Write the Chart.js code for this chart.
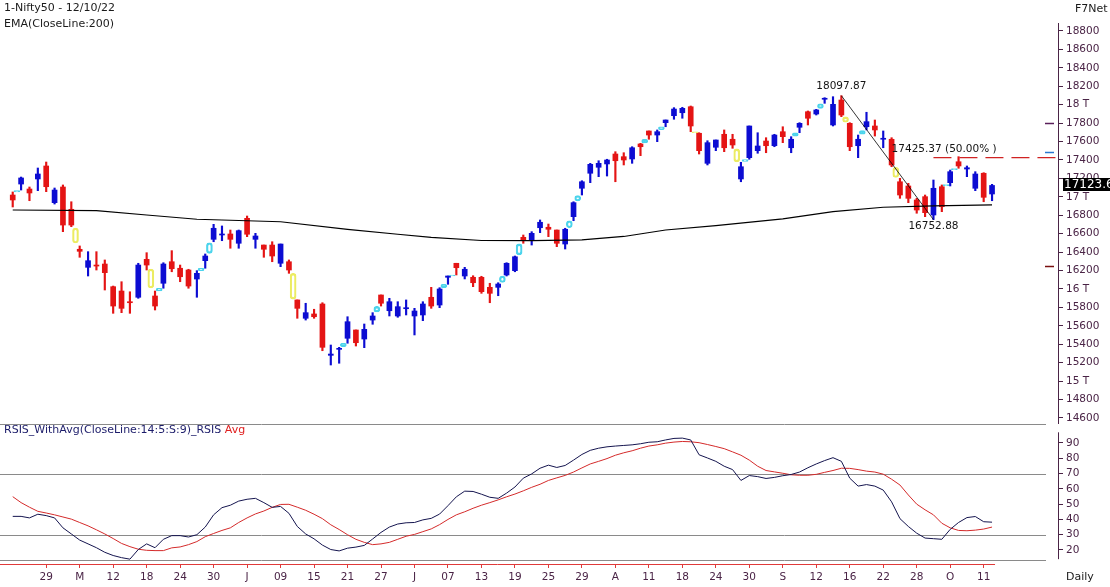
<!DOCTYPE html>
<html>
<head>
<meta charset="utf-8">
<title>Nifty50 daily</title>
<script src="https://cdn.jsdelivr.net/npm/chart.js@4.4.1/dist/chart.umd.min.js"></script>
<style>
  html, body { margin: 0; padding: 0; background: #fff; }
  body { position: relative; width: 1110px; height: 587px; overflow: hidden; font-family: "DejaVu Sans", Verdana, sans-serif; }
  canvas { position: absolute; left: 0; }
  #priceChart { top: 0; }
  #rsiChart { top: 424px; }
  .txt { position: absolute; font-size: 11px; line-height: 14px; color: #1a1a1a; white-space: nowrap; }
</style>
</head>
<body>
<canvas id="priceChart" width="1110" height="424"></canvas>
<canvas id="rsiChart" width="1110" height="163"></canvas>
<div class="txt" style="left:4px;top:1px">1-Nifty50 - 12/10/22</div>
<div class="txt" style="left:4px;top:17px">EMA(CloseLine:200)</div>
<div class="txt" style="left:1075px;top:2px">F7Net</div>
<div class="txt" style="left:4px;top:423px;color:#1c1c6a">RSIS_WithAvg(CloseLine:14:5:S:9)_RSIS <span style="color:#e02020">Avg</span></div>
<div class="txt" style="left:1066px;top:570px">Daily</div>
<script>
// daily candles, 25 Apr 2022 .. 12 Oct 2022
const open = [17020,17139,17085,17194,17335,16937,17107,16865,16431,16235,
  16260,16271,16025,15978,15862,15910,16322,15924,16062,16296,
  16225,16206,16108,16307,16539,16586,16597,16496,16767,16539,
  16477,16477,16279,16296,15881,15682,15729,15837,15280,15345,
  15465,15555,15457,15663,15935,15764,15707,15786,15707,15718,
  15910,15826,16127,16279,16141,16127,16127,16018,16018,16152,
  16199,16561,16532,16665,16670,16640,16488,16785,17093,17256,
  17321,17357,17465,17436,17411,17574,17715,17671,17805,17881,
  17913,17978,17690,17364,17538,17679,17625,17194,17425,17501,
  17606,17555,17707,17533,17755,17924,17899,18059,17780,18051,
  17798,17555,17761,17769,17625,17625,17164,17118,16966,17002,
  16803,17110,17154,17381,17302,17093,17256,17031]
const high = [17053,17215,17107,17313,17378,17096,17129,16947,16467,16405,
  16405,16315,16032,16079,15970,16279,16394,15978,16285,16416,
  16260,16214,16199,16380,16702,16684,16640,16640,16792,16604,
  16477,16513,16488,16315,15881,15845,15780,15851,15392,15367,
  15699,15555,15620,15743,15935,15899,15862,15881,15790,15862,
  16018,16014,16141,16279,16235,16144,16138,16062,16068,16285,
  16358,16586,16622,16749,16705,16640,16659,16947,17175,17364,
  17392,17408,17490,17479,17544,17581,17715,17726,17834,17968,
  17972,17986,17696,17609,17617,17726,17679,17375,17769,17696,
  17642,17679,17761,17653,17805,17932,17950,18076,18087,18097.87,
  17805,17671,17918,17834,17715,17642,17201,17147,16984,17020,
  17183,17129,17291,17436,17335,17273,17262,17136]
const low = [16890,17074,16958,17067,17056,16922,16622,16676,16344,16141,
  16206,15989,15736,15743,15736,15899,16206,15772,16008,16187,
  16079,16008,15910,16225,16513,16524,16442,16442,16568,16442,
  16344,16296,16242,16170,15682,15663,15682,15330,15175,15194,
  15411,15381,15363,15617,15815,15707,15693,15718,15501,15656,
  15790,15797,16051,16152,16109,16025,15953,15851,15927,16141,
  16187,16496,16477,16611,16568,16459,16434,16741,17020,17154,
  17219,17226,17164,17346,17364,17447,17625,17599,17761,17842,
  17853,17707,17465,17346,17501,17490,17527,17164,17408,17473,
  17479,17544,17588,17479,17696,17780,17888,18015,17769,17870,
  17501,17425,17726,17660,17533,17327,16984,16937,16822,16785,
  16752.88,16839,17118,17310,17219,17067,16947,16958]
const close = [16966,17205,17042,17248,17110,17074,16694,16694,16409,16307,
  16249,16177,15815,15790,15851,16260,16260,15815,16271,16220,
  16133,16032,16170,16358,16659,16597,16539,16633,16594,16575,
  16431,16358,16488,16206,15790,15743,15699,15367,15294,15356,
  15645,15417,15562,15707,15845,15862,15808,15797,15761,15837,
  15815,16000,16141,16231,16214,16068,15971,15953,16054,16279,
  16350,16524,16604,16724,16648,16496,16648,16937,17164,17353,
  17364,17400,17392,17400,17533,17544,17671,17707,17834,17953,
  17961,17769,17501,17588,17617,17533,17563,17327,17769,17552,
  17555,17671,17653,17625,17798,17853,17943,18070,18004,17888,
  17544,17625,17816,17726,17635,17346,17020,16984,16857,16828,
  17093,16893,17273,17335,17316,17248,16995,17123.6]

// date axis: a label every 4th session
const tickIdx = [4,8,12,16,20,24,28,32,36,40,44,48,52,56,60,64,68,72,76,80,84,88,92,96,100,104,108,112,116]
const tickText = ['29','M','12','18','24','30','J','09','15','21','27','J','07','13','19','25','29','A','11','18','24','30','S','12','16','22','28','O','11']
const priceTicks = [14600,14800,15000,15200,15400,15600,15800,16000,16200,16400,16600,16800,17000,17200,17400,17600,17800,18000,18200,18400,18600,18800]

// EMA(200)
const emaIdx = [0,10,16,22,32,40,46,50,56,62,68,73,78,84,92,98,104,110,117]
const emaVal = [16857,16850,16803,16757,16730,16648,16594,16561,16526,16524,16532,16570,16640,16687,16760,16839,16887,16901,16912]

// price gaps between sessions (cyan = gap up, yellow = gap down)
const gapPos = [0.5,7.5,16.5,17.5,22.5,23.5,33.5,39.5,43.5,51.5,52.5,58.5,60.5,66.5,67.5,75.5,77.5,81.5,86.5,87.5,93.5,96.5,99.5,101.5,105.5,111.5,112.5]
const gapLo = [17053,16499,16011,15978,16199,16387,15890,15375,15750,16014,16141,16070,16370,16665,16955,17585,17730,17696,17380,17385,17658,17960,17810,17680,17210,17122,17295]
const gapHi = [17069,16662,16217,16008,16225,16502,16170,15411,15812,16051,16152,16141,16490,16741,17015,17625,17761,17707,17520,17405,17696,18010,17868,17720,17320,17132,17308]
const gapUp = [1,0,0,1,1,1,0,1,1,1,1,1,1,1,1,1,1,0,0,1,1,1,0,1,0,1,1]

// retracement drawing
const swingHighIdx = 99, swingHigh = 18097.87
const swingLowIdx = 110, swingLow = 16752.88
const fibLevel = 17425.37
const fibLabelIdx = 105
const sideMarks = [17805, 17490, 16250]

// RSI panel
const rsi = [42,42,41,43.4,42.5,41,34.5,30.5,26.5,24,
  21.5,18.5,16.4,15,14,20.3,24,21.5,27,29.4,
  29.4,28.5,30,35,43,47.7,49.3,52,53.2,53.8,
  51,47.9,48.5,44,35.4,30.5,27.3,23.2,20.3,19.4,
  21.2,21.9,23,27.2,31.5,35,37,37.8,38,39.7,
  40.7,43.5,49,54.8,58.5,58.3,56.5,54.5,53.8,57.2,
  61.2,67,69.8,73.5,75.5,74,75.3,78.8,82.5,85.2,
  86.6,87.5,88,88.4,88.8,89.5,90.5,90.8,92,93,
  93.2,92,82.3,80.2,78,74.8,72.6,65.5,68.7,68,
  66.8,67.5,68.6,69.4,71,73.8,76.3,78.5,80.4,78,
  67,61.8,62.8,61.8,59.2,51.5,40.5,35.4,31,27.8,
  27.4,27,33.5,38,41.2,41.9,38.5,38.2]
const rsiAvg = [54.9,51,48,45.3,44.2,43,41.6,40.2,38,35.8,
  33.2,30.5,27.5,24.3,22.2,20.5,19.8,19.6,19.6,21.4,
  22,23.5,25.5,28.7,30.8,32.8,34.5,38,41,43.6,
  45.5,47.9,49.8,49.9,48,46,43.4,40.5,36.5,33.4,
  30,27,25,23.5,24,25,27,29,30.2,32,
  33.8,36.6,40,43,45,47.3,49.3,51,52.8,54.8,
  56.6,58.7,61,63,65.5,67.2,68.8,71,73.7,76.3,
  78,79.8,82,83.6,84.9,86.6,88,88.8,89.9,90.6,
  91,90.8,90.2,89,87.7,86.3,84.2,82,78.8,74.8,
  72,71.1,70.2,69.2,68.9,68.9,69.5,70.8,72,73.5,
  73.4,72.6,71.6,71,69.6,66.3,62.5,56,50,46.3,
  43,37.5,34.5,32.8,32.6,33,33.7,35]
const rsiTicks = [20,30,40,50,60,70,80,90]
const rsiLevels = [70, 30]

// look
const UP = '#0c0cd2'
const DOWN = '#e41414'
const CYAN = '#4cd4ec'
const YELLOW = '#ecec62'
const AXIS = '#4a2446'
const GRID = '#8a8a8a'
const TICK_FONT = { family: 'DejaVu Sans', size: 10.5 }
const X_MIN = -1.52, X_MAX = 124.88

const idx = close.map((_, i) => i)
const candleColors = idx.map(i => close[i] >= open[i] ? UP : DOWN)
const sideMarkColors = ['#5a1f5a', '#2a78d0', '#7a1010']

// keep the plot area exactly where the layout padding puts it
function fixWidth(s) {
  s.width = 52
  s.paddingTop = 0
  s.paddingBottom = 0
}
function fixHeight(s) {
  s.height = 23
  s.paddingLeft = 0
  s.paddingRight = 0
}

// Notes, side marks and last-close tag on the price panel
const priceNotes = {
  id: 'priceNotes',
  afterDraw(chart) {
    const { ctx, chartArea: a, scales: { x, y } } = chart
    ctx.save()
    ctx.font = '10.5px "DejaVu Sans"'
    ctx.fillStyle = '#141414'
    ctx.textBaseline = 'middle'
    ctx.textAlign = 'center'
    ctx.fillText(swingHigh.toFixed(2), x.getPixelForValue(swingHighIdx), y.getPixelForValue(swingHigh) - 9)
    ctx.fillText(swingLow.toFixed(2), x.getPixelForValue(swingLowIdx), y.getPixelForValue(swingLow) + 7)
    ctx.textAlign = 'left'
    ctx.fillText(fibLevel.toFixed(2) + ' (50.00% )', x.getPixelForValue(fibLabelIdx), y.getPixelForValue(fibLevel) - 8)

    ctx.lineWidth = 1.5
    sideMarks.forEach((v, k) => {
      const py = Math.round(y.getPixelForValue(v)) + 0.5
      ctx.strokeStyle = sideMarkColors[k]
      ctx.beginPath()
      ctx.moveTo(a.right - 13, py)
      ctx.lineTo(a.right - 4, py)
      ctx.stroke()
    })

    const last = close[close.length - 1]
    const cy = Math.round(y.getPixelForValue(last))
    ctx.fillStyle = '#000'
    ctx.fillRect(a.right + 5, cy - 7, 60, 13)
    ctx.fillStyle = '#fff'
    ctx.font = '12px "DejaVu Sans"'
    ctx.fillText(last.toFixed(1), a.right + 6, cy)
    ctx.restore()
  }
}

// Reference lines and frame of the RSI panel
const rsiFrame = {
  id: 'rsiFrame',
  beforeDatasetsDraw(chart) {
    const { ctx, chartArea: a, scales: { x, y } } = chart
    const gridEnd = a.right - 12
    const hline = (py, x2, color) => {
      ctx.strokeStyle = color
      ctx.beginPath()
      ctx.moveTo(0, py)
      ctx.lineTo(x2, py)
      ctx.stroke()
    }
    ctx.save()
    ctx.lineWidth = 1
    hline(a.top + 0.5, gridEnd, GRID)
    rsiLevels.forEach(v => hline(Math.round(y.getPixelForValue(v)) + 0.5, gridEnd, GRID))
    hline(a.bottom - 3.5, gridEnd, GRID)
    hline(a.bottom + 0.5, x.getPixelForValue(close.length - 1) + 3, '#e03a3a')
    ctx.strokeStyle = AXIS
    ctx.beginPath()
    ctx.moveTo(a.right + 0.5, y.getPixelForValue(97))
    ctx.lineTo(a.right + 0.5, y.getPixelForValue(14))
    ctx.stroke()
    ctx.restore()
  }
}

new Chart(document.getElementById('priceChart'), {
  type: 'bar',
  data: {
    datasets: [
      {
        type: 'line',
        data: emaIdx.map((v, k) => ({ x: v, y: emaVal[k] })),
        borderColor: '#000',
        borderWidth: 1.2,
        pointRadius: 0,
        order: 0,
      },
      {
        type: 'line',
        data: [{ x: swingHighIdx, y: swingHigh }, { x: swingLowIdx, y: swingLow }],
        borderColor: '#000',
        borderWidth: 0.8,
        pointRadius: 0,
        order: 0,
      },
      {
        type: 'line',
        data: [{ x: swingLowIdx, y: fibLevel }, { x: X_MAX, y: fibLevel }],
        borderColor: '#d02222',
        borderWidth: 1.2,
        borderDash: [18, 8],
        pointRadius: 0,
        order: 0,
      },
      {
        data: gapPos.map((p, k) => ({ x: p, y: [gapLo[k], gapHi[k]] })),
        backgroundColor: 'rgba(0,0,0,0)',
        borderColor: gapUp.map(u => (u ? CYAN : YELLOW)),
        borderWidth: 1.5,
        borderRadius: 10,
        borderSkipped: false,
        barThickness: 6,
        grouped: false,
        order: 1,
      },
      {
        data: idx.map(i => ({ x: i, y: [open[i], close[i]] })),
        backgroundColor: candleColors,
        barThickness: 5,
        minBarLength: 1,
        grouped: false,
        order: 2,
      },
      {
        data: idx.map(i => ({ x: i, y: [low[i], high[i]] })),
        backgroundColor: candleColors,
        barThickness: 1.5,
        grouped: false,
        order: 3,
      },
    ],
  },
  options: {
    responsive: false,
    animation: false,
    events: [],
    layout: { padding: { top: 23, left: 0, right: 0, bottom: 0 }, autoPadding: false },
    plugins: { legend: { display: false }, tooltip: { enabled: false } },
    scales: {
      x: { type: 'linear', min: X_MIN, max: X_MAX, offset: false, display: false },
      y: {
        position: 'right',
        min: 14534.7,
        max: 18886.8,
        afterBuildTicks: s => { s.ticks = priceTicks.map(v => ({ value: v })) },
        afterFit: fixWidth,
        ticks: {
          callback: v => (v % 1000 === 0 ? v / 1000 + ' T' : String(v)),
          color: AXIS,
          font: TICK_FONT,
          padding: 3,
        },
        grid: { drawOnChartArea: false, tickLength: 5, color: AXIS },
        border: { color: AXIS },
      },
    },
  },
  plugins: [priceNotes],
})

new Chart(document.getElementById('rsiChart'), {
  type: 'line',
  data: {
    datasets: [
      { data: idx.map(i => ({ x: i, y: rsi[i] })), borderColor: '#14144e', borderWidth: 1, pointRadius: 0 },
      { data: idx.map(i => ({ x: i, y: rsiAvg[i] })), borderColor: '#d42a2a', borderWidth: 1, pointRadius: 0 },
    ],
  },
  options: {
    responsive: false,
    animation: false,
    events: [],
    layout: { padding: 0, autoPadding: false },
    plugins: { legend: { display: false }, tooltip: { enabled: false } },
    scales: {
      x: {
        type: 'linear',
        min: X_MIN,
        max: X_MAX,
        offset: false,
        afterBuildTicks: s => { s.ticks = tickIdx.map(v => ({ value: v })) },
        afterFit: fixHeight,
        ticks: {
          callback: v => tickText[tickIdx.indexOf(v)],
          color: AXIS,
          font: TICK_FONT,
          padding: 3,
          maxRotation: 0,
          autoSkip: false,
        },
        grid: { drawOnChartArea: false, tickLength: 4, color: '#e03a3a' },
        border: { display: false },
      },
      y: {
        position: 'right',
        min: 10.84,
        max: 102.43,
        afterBuildTicks: s => { s.ticks = rsiTicks.map(v => ({ value: v })) },
        afterFit: fixWidth,
        ticks: { color: AXIS, font: TICK_FONT, padding: 3 },
        grid: { drawOnChartArea: false, tickLength: 5, color: AXIS },
        border: { display: false },
      },
    },
  },
  plugins: [rsiFrame],
})
</script>
</body>
</html>
